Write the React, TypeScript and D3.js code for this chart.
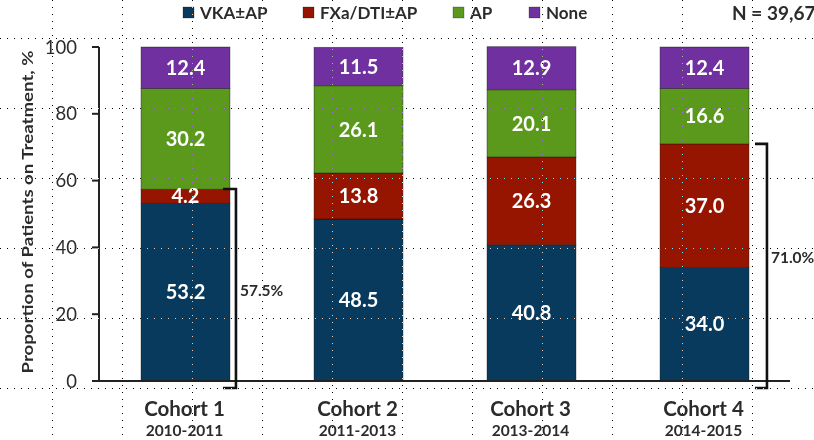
import React from "react";
import * as d3 from "d3";

const cohorts = ["Cohort 1", "Cohort 2", "Cohort 3", "Cohort 4"];
const periods = ["2010-2011", "2011-2013", "2013-2014", "2014-2015"];
const seriesNames = ["VKA±AP", "FXa/DTI±AP", "AP", "None"];
const vka = [53.2, 48.5, 40.8, 34.0];
const fxa = [4.2, 13.8, 26.3, 37.0];
const ap = [30.2, 26.1, 20.1, 16.6];
const none = [12.4, 11.5, 12.9, 12.4];
const yTicks = [0, 20, 40, 60, 80, 100];
const bracketCohorts = [0, 3];
const bracketTotals = [57.5, 71.0];
const bracketLabels = ["57.5%", "71.0%"];
const nLabel = "N = 39,67";

const W = 814;
const H = 440;
const colors = ["#073a5c", "#961500", "#5a991b", "#7030a0"];
const FONT = "Lato, 'Open Sans', sans-serif";
const TXT = "#2b2b2b";

export default function App() {
  const x = d3
    .scaleBand<string>()
    .domain(cohorts)
    .range([99, 791])
    .paddingInner(0.486)
    .paddingOuter(0.243);
  const y = d3.scaleLinear().domain([0, 100]).range([381, 47]);

  const rows = cohorts.map((c, i) => ({
    cohort: c,
    s0: vka[i],
    s1: fxa[i],
    s2: ap[i],
    s3: none[i],
  }));
  const stack = d3.stack<any>().keys(["s0", "s1", "s2", "s3"]);
  const layers = stack(rows);

  const bw = x.bandwidth();

  const bracketLayout = [
    { h0: -7, v: 6, lx: 4, ly: 290 },
    { h0: 6, v: 18, lx: 4, ly: 257 },
  ];

  const gridX = d3.range(52, W + 10, 70);
  const gridY = d3.range(38, H + 10, 70);

  const legendX = [183, 303, 453, 529];

  return (
    <div style={{ position: "absolute", left: 0, top: 0 }}>
      <svg width={W} height={H} style={{ display: "block", background: "#fff" }}>
        <rect x={0} y={0} width={W} height={H} fill="#fff" />
        {layers.map((layer, li) => (
          <g key={li}>
            {layer.map((d, i) => (
              <rect
                key={i}
                x={x(cohorts[i])}
                y={y(d[1])}
                width={bw}
                height={y(d[0]) - y(d[1])}
                fill={colors[li]}
                stroke="rgba(0,0,0,0.45)"
                strokeWidth={0.8}
              />
            ))}
          </g>
        ))}
        {layers.map((layer, li) => (
          <g key={"l" + li}>
            {layer.map((d, i) => (
              <text
                key={i}
                x={(x(cohorts[i]) as number) + bw / 2}
                y={y((d[0] + d[1]) / 2)}
                dy="0.36em"
                textAnchor="middle"
                fill="#fff"
                fontFamily={FONT}
                fontWeight="bold"
                fontSize={20}
              >
                {(d[1] - d[0]).toFixed(1)}
              </text>
            ))}
          </g>
        ))}
        <line x1={99} x2={99} y1={y(100)} y2={y(0)} stroke="#222" strokeWidth={2} />
        {yTicks.map((t) => (
          <g key={t}>
            <line x1={92} x2={99} y1={y(t)} y2={y(t)} stroke="#222" strokeWidth={2} />
            <text
              x={77}
              y={y(t)}
              dy="0.36em"
              textAnchor="end"
              fill={TXT}
              fontFamily={FONT}
              fontSize={18.5}
            >
              {t}
            </text>
          </g>
        ))}
        <line x1={98} x2={790} y1={y(0)} y2={y(0)} stroke="#222" strokeWidth={2} />
        {cohorts.map((c, i) => (
          <g key={c}>
            <text
              x={(x(c) as number) + bw / 2 - 1}
              y={416}
              textAnchor="middle"
              fill={TXT}
              fontFamily={FONT}
              fontWeight="bold"
              fontSize={20.5}
            >
              {c}
            </text>
            <text
              x={(x(c) as number) + bw / 2 - 1}
              y={436}
              textAnchor="middle"
              fill={TXT}
              fontFamily={FONT}
              fontWeight="bold"
              fontSize={15.5}
            >
              {periods[i]}
            </text>
          </g>
        ))}
        <text
          transform={`translate(33,${212}) rotate(-90)`}
          textAnchor="middle"
          fill={TXT}
          fontFamily={FONT}
          fontWeight="bold"
          fontSize={15.5}
          textLength={323}
          lengthAdjust="spacingAndGlyphs"
        >
          Proportion of Patients on Treatment, %
        </text>
        {bracketCohorts.map((ci, k) => {
          const right = (x(cohorts[ci]) as number) + bw;
          const L = bracketLayout[k];
          const yt = y(bracketTotals[k]);
          const yb = y(0) + 7;
          const vx = right + L.v;
          return (
            <g key={k}>
              <path
                d={`M${right + L.h0},${yt}H${vx}V${yb}H${right + L.h0}`}
                fill="none"
                stroke="#111"
                strokeWidth={2.6}
              />
              <text
                x={vx + L.lx}
                y={L.ly}
                dy="0.36em"
                fill={TXT}
                fontFamily={FONT}
                fontWeight="bold"
                fontSize={15.5}
              >
                {bracketLabels[k]}
              </text>
            </g>
          );
        })}
        {seriesNames.map((s, i) => (
          <g key={s}>
            <rect x={legendX[i]} y={7} width={11} height={11} fill={colors[i]} stroke="rgba(0,0,0,0.4)" strokeWidth={0.6} />
            <text
              x={legendX[i] + 17}
              y={19}
              fill={TXT}
              fontFamily={FONT}
              fontWeight="bold"
              fontSize={17}
            >
              {s}
            </text>
          </g>
        ))}
        <text x={732} y={20} fill={TXT} fontFamily={FONT} fontWeight="bold" fontSize={19}>
          {nLabel}
        </text>
        <g style={{ mixBlendMode: "difference" }}>
          {gridX.map((gx) => (
            <line key={"gx" + gx} x1={gx + 0.5} x2={gx + 0.5} y1={0} y2={H} stroke="#fff" strokeWidth={1} strokeDasharray="1,6" />
          ))}
          {gridY.map((gy) => (
            <line key={"gy" + gy} x1={0} x2={W} y1={gy + 0.5} y2={gy + 0.5} stroke="#fff" strokeWidth={1} strokeDasharray="1,6" />
          ))}
        </g>
      </svg>
    </div>
  );
}
